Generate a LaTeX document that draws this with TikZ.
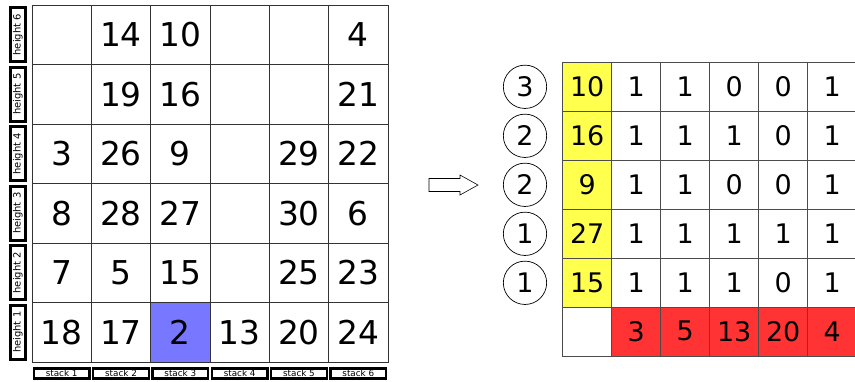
\documentclass[tikz,border=0pt]{standalone}
\usepackage{fontspec}
\setmainfont{DejaVu Sans}
\usepackage{xcolor}
\usepackage{tikz}
\usetikzlibrary{positioning}

\definecolor{pickblue}{RGB}{119,119,255}
\definecolor{keyyellow}{RGB}{255,255,77}
\definecolor{targetred}{RGB}{255,51,51}

\begin{document}
\begin{tikzpicture}[
  x=0.03cm, y=-0.03cm,
  cell/.style={draw=black!80, line width=0.5pt, minimum size=1.78cm, inner sep=0pt, font=\fontsize{28}{28}\selectfont},
  mcell/.style={draw=black!70, line width=0.5pt, minimum size=1.47cm, inner sep=0pt, font=\fontsize{23}{23}\selectfont},
  hlabel/.style={draw, line width=2.4pt, rotate=90, minimum width=1.62cm, minimum height=0.45cm, inner sep=0pt, font=\fontsize{8.5}{8.5}\selectfont},
  slabel/.style={draw, line width=2.2pt, minimum width=1.67cm, minimum height=0.3cm, inner sep=0pt, font=\fontsize{7.5}{7.5}\selectfont},
  count/.style={circle, draw, line width=0.6pt, minimum size=1.3cm, inner sep=0pt, font=\fontsize{23}{23}\selectfont}
]
  \clip (0,0) rectangle (855,381);

  % stacks on the left
  \foreach \col in {1,...,6}
    \foreach \lvl in {1,...,6}
      \node[cell] (cell-\col-\lvl) at ({32+59.33*(\col-0.5)}, {362-59.5*(\lvl-0.5)}) {};
  \node[cell, fill=pickblue] at (cell-3-1) {2};
  \foreach \col/\lvl/\val in {2/6/14, 3/6/10, 6/6/4, 2/5/19, 3/5/16, 6/5/21,
      1/4/3, 2/4/26, 3/4/9, 5/4/29, 6/4/22, 1/3/8, 2/3/28, 3/3/27, 5/3/30, 6/3/6,
      1/2/7, 2/2/5, 3/2/15, 5/2/25, 6/2/23, 1/1/18, 2/1/17, 4/1/13, 5/1/20, 6/1/24}
    \node[cell, draw=none] at (cell-\col-\lvl) {\val};

  \foreach \lvl in {1,...,6}
    \node[hlabel] (height-\lvl) at (18, {362-59.5*(\lvl-0.5)}) {height \lvl};
  \foreach \col in {1,...,6}
    \node[slabel, below=0.15cm of cell-\col-1] (stack-\col) {stack \col};

  % arrow
  \draw[line width=0.5pt, fill=white] (429,178.5) -- (460,178.5) -- (460,175) -- (478,185)
    -- (460,195) -- (460,191.5) -- (429,191.5) -- cycle;

  % matrix on the right
  \foreach \row/\key/\cnt/\a/\b/\c/\d/\e in {1/10/3/1/1/0/0/1, 2/16/2/1/1/1/0/1, 3/9/2/1/1/0/0/1,
      4/27/1/1/1/1/1/1, 5/15/1/1/1/1/0/1} {
    \node[mcell, fill=keyyellow] (m-0-\row) at (587.2, {62.3+49*(\row-0.5)}) {\key};
    \node[count] (count-\row) at (525, {62.3+49*(\row-0.5)}) {\cnt};
    \foreach \col/\val in {1/\a, 2/\b, 3/\c, 4/\d, 5/\e}
      \node[mcell] (m-\col-\row) at ({611.7+49*(\col-0.5)}, {62.3+49*(\row-0.5)}) {\val};
  }
  \node[mcell] (m-0-6) at (587.2, 331.3) {};
  \foreach \col/\val in {1/3, 2/5, 3/13, 4/20, 5/4}
    \node[mcell, fill=targetred] (m-\col-6) at ({611.7+49*(\col-0.5)}, 331.3) {\val};
\end{tikzpicture}
\end{document}
